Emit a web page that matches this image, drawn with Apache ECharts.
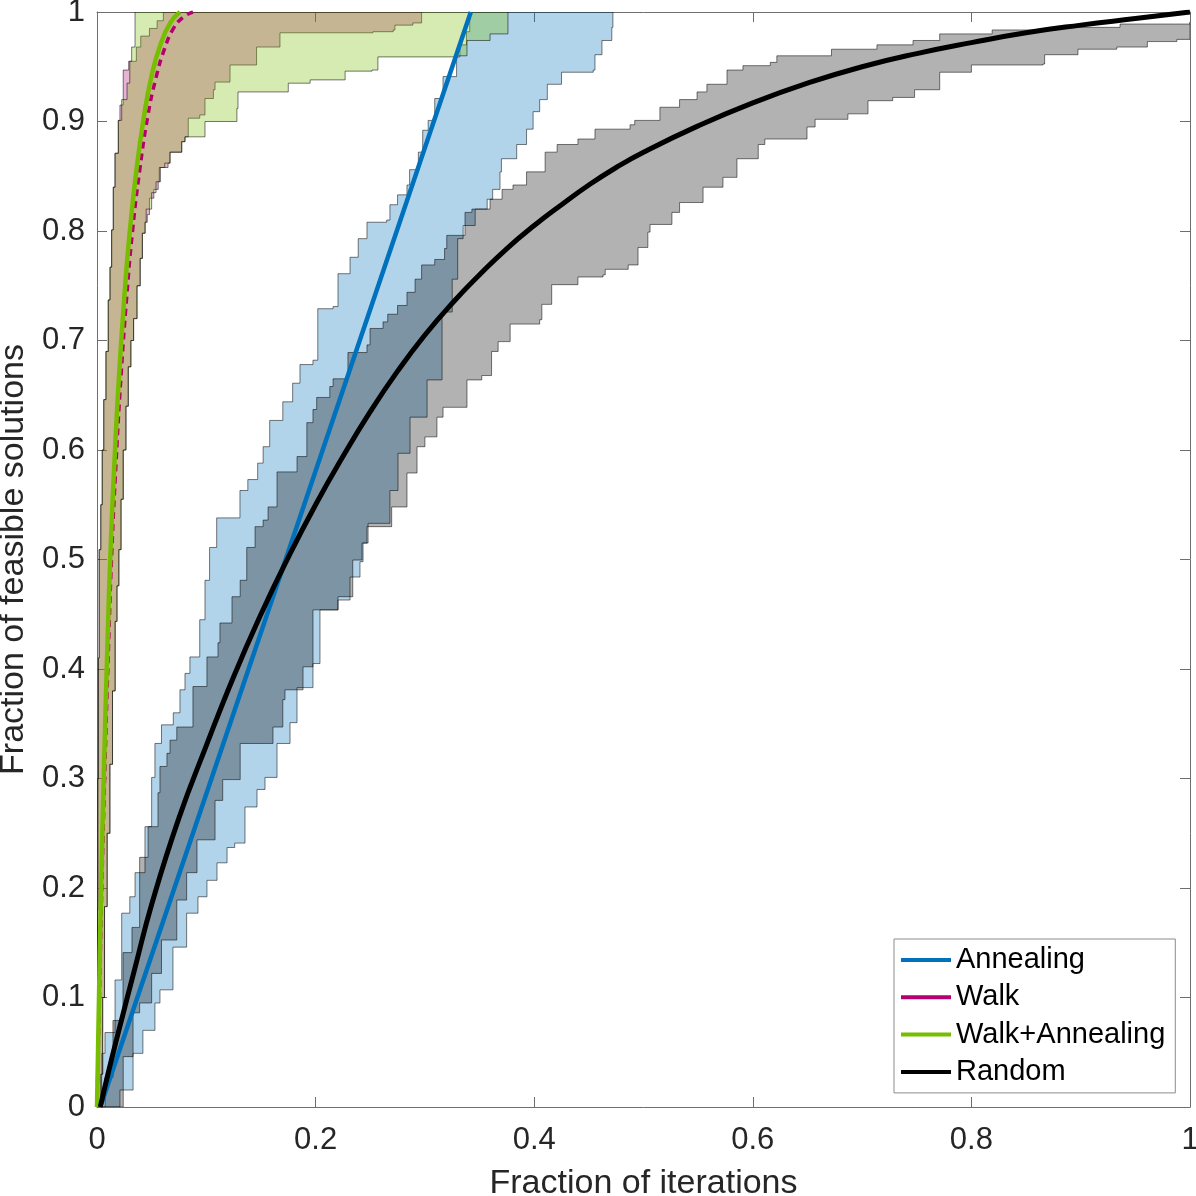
<!DOCTYPE html>
<html><head><meta charset="utf-8">
<script src="https://cdn.jsdelivr.net/npm/echarts@6/dist/echarts.min.js"></script>
<style>html,body{margin:0;padding:0;background:#fff}#c{width:1196px;height:1196px}</style>
</head><body><div id="c"></div>
<script>
// ---- data ----
const xTicks = [0, 0.2, 0.4, 0.6, 0.8, 1];
const yTicks = [0, 0.1, 0.2, 0.3, 0.4, 0.5, 0.6, 0.7, 0.8, 0.9, 1];
const seriesNames = ['Annealing', 'Walk', 'Walk+Annealing', 'Random'];

const annealingMean = [[0.003,0],[0.1726,0.5],[0.342,1]];
const walkMean = [[0,0],[0.0024,0.11],[0.0046,0.21],[0.0073,0.313],[0.0105,0.42],[0.0136,0.509],[0.0175,0.59],[0.0218,0.665],[0.0272,0.74],[0.0325,0.80],[0.039,0.855],[0.0465,0.905],[0.054,0.94],[0.062,0.967],[0.07,0.985],[0.0785,0.995],[0.0878,1.0]];
const walkAnnMean = [[0,0],[0.002,0.11],[0.004,0.21],[0.0065,0.313],[0.0095,0.42],[0.0124,0.509],[0.016,0.59],[0.020,0.665],[0.025,0.74],[0.030,0.80],[0.036,0.855],[0.043,0.905],[0.050,0.942],[0.058,0.97],[0.067,0.99],[0.0759,1.0]];
const randomMean = [[0.003,0],[0.01,0.03],[0.02,0.07],[0.035,0.128],[0.05,0.185],[0.075,0.264],[0.1,0.33],[0.125,0.393],[0.15,0.45],[0.175,0.502],[0.2,0.55],[0.225,0.594],[0.25,0.635],[0.275,0.672],[0.3,0.705],[0.325,0.734],[0.35,0.76],[0.375,0.784],[0.4,0.805],[0.425,0.824],[0.45,0.842],[0.475,0.858],[0.5,0.872],[0.55,0.896],[0.6,0.917],[0.65,0.935],[0.7,0.95],[0.75,0.962],[0.8,0.972],[0.85,0.981],[0.9,0.988],[0.95,0.994],[1.0,1.0]];

const annealingUpper = [[0.003,0],[0.0043,0.049],[0.0073,0.068],[0.0165,0.116],[0.0226,0.177],[0.030,0.192],[0.0348,0.214],[0.0439,0.256],[0.050,0.301],[0.053,0.332],[0.059,0.349],[0.0698,0.360],[0.0759,0.381],[0.0805,0.396],[0.085,0.411],[0.094,0.445],[0.0988,0.481],[0.103,0.511],[0.1095,0.538],[0.1308,0.563],[0.138,0.573],[0.147,0.588],[0.152,0.603],[0.158,0.627],[0.170,0.644],[0.179,0.661],[0.1857,0.678],[0.1976,0.682],[0.202,0.729],[0.216,0.731],[0.2205,0.761],[0.2315,0.776],[0.239,0.793],[0.247,0.808],[0.265,0.810],[0.268,0.824],[0.275,0.833],[0.2836,0.842],[0.286,0.856],[0.294,0.872],[0.298,0.892],[0.303,0.901],[0.309,0.921],[0.3166,0.941],[0.329,0.959],[0.332,0.970],[0.338,0.982],[0.341,1.0]];
const annealingLower = [[0.003,0],[0.021,0.0155],[0.033,0.049],[0.042,0.070],[0.053,0.095],[0.0576,0.107],[0.0695,0.146],[0.082,0.177],[0.0924,0.192],[0.1006,0.207],[0.1098,0.223],[0.119,0.237],[0.126,0.241],[0.1354,0.274],[0.1464,0.290],[0.1537,0.301],[0.1647,0.332],[0.1766,0.351],[0.183,0.383],[0.1976,0.405],[0.204,0.454],[0.2205,0.463],[0.2315,0.484],[0.2406,0.498],[0.2434,0.515],[0.248,0.533],[0.268,0.563],[0.2754,0.597],[0.2864,0.630],[0.302,0.664],[0.3157,0.726],[0.325,0.756],[0.330,0.793],[0.335,0.805],[0.346,0.820],[0.357,0.829],[0.362,0.838],[0.3687,0.854],[0.370,0.866],[0.384,0.879],[0.393,0.893],[0.399,0.909],[0.405,0.920],[0.412,0.934],[0.425,0.945],[0.454,0.947],[0.4556,0.961],[0.462,0.974],[0.471,0.986],[0.472,1.0]];

const walkUpper = [[0,0],[0.0003,0.18],[0.0008,0.3],[0.0013,0.41],[0.002,0.509],[0.0035,0.55],[0.0048,0.6],[0.0062,0.646],[0.0082,0.69],[0.0103,0.737],[0.0119,0.767],[0.0134,0.801],[0.0149,0.840],[0.0165,0.871],[0.0195,0.901],[0.021,0.915],[0.024,0.935],[0.024,0.947],[0.029,0.955],[0.036,0.968],[0.040,0.978],[0.048,0.985],[0.055,0.992],[0.0607,1.0]];
const walkLower = [[0.002,0],[0.0036,0.03],[0.0052,0.1],[0.0069,0.183],[0.0093,0.25],[0.0118,0.313],[0.0142,0.38],[0.0166,0.4435],[0.0183,0.476],[0.020,0.509],[0.022,0.555],[0.024,0.6],[0.0265,0.64],[0.0286,0.676],[0.031,0.70],[0.0335,0.72],[0.0366,0.75],[0.0395,0.775],[0.0415,0.798],[0.044,0.808],[0.046,0.815],[0.048,0.83],[0.052,0.838],[0.056,0.845],[0.058,0.858],[0.065,0.862],[0.0668,0.872],[0.076,0.872],[0.0775,0.8816],[0.0805,0.886],[0.0835,0.892],[0.0835,0.903],[0.094,0.906],[0.0988,0.9105],[0.0988,0.921],[0.1065,0.929],[0.108,0.936],[0.1217,0.936],[0.1217,0.9516],[0.146,0.9516],[0.146,0.968],[0.1674,0.968],[0.1674,0.981],[0.2525,0.982],[0.271,0.9836],[0.2726,0.988],[0.289,0.990],[0.297,0.993],[0.297,1.0]];

const walkAnnUpper = [[0,0],[0.0003,0.18],[0.0008,0.3],[0.0013,0.41],[0.002,0.509],[0.0035,0.55],[0.0048,0.6],[0.0062,0.646],[0.0082,0.69],[0.0103,0.737],[0.0119,0.767],[0.0134,0.801],[0.0149,0.840],[0.0165,0.871],[0.0195,0.901],[0.0226,0.92],[0.0275,0.935],[0.030,0.955],[0.0317,0.968],[0.0348,0.982],[0.0348,1.0]];
const walkAnnLower = [[0.002,0],[0.0036,0.03],[0.0052,0.1],[0.0069,0.183],[0.0093,0.25],[0.0118,0.313],[0.0142,0.38],[0.0166,0.4435],[0.0183,0.476],[0.020,0.509],[0.022,0.555],[0.024,0.6],[0.0265,0.64],[0.0286,0.676],[0.031,0.70],[0.0335,0.72],[0.0366,0.75],[0.0395,0.775],[0.0415,0.798],[0.044,0.808],[0.045,0.82],[0.05,0.835],[0.054,0.845],[0.057,0.858],[0.062,0.862],[0.0668,0.872],[0.0775,0.872],[0.0775,0.8816],[0.0805,0.886],[0.0988,0.900],[0.128,0.912],[0.129,0.927],[0.175,0.929],[0.175,0.935],[0.195,0.938],[0.227,0.9406],[0.227,0.946],[0.2516,0.947],[0.257,0.959],[0.330,0.960],[0.3385,0.974],[0.3596,0.980],[0.376,0.986],[0.376,1.0]];

const randomUpper = [[0.003,0],[0.0073,0.027],[0.0146,0.079],[0.0238,0.141],[0.032,0.164],[0.039,0.228],[0.0467,0.256],[0.0558,0.287],[0.0576,0.311],[0.064,0.323],[0.0668,0.335],[0.073,0.347],[0.0878,0.384],[0.1006,0.411],[0.1107,0.424],[0.1125,0.442],[0.1235,0.466],[0.131,0.481],[0.137,0.511],[0.1446,0.530],[0.152,0.536],[0.1565,0.548],[0.1647,0.580],[0.183,0.594],[0.192,0.625],[0.1976,0.637],[0.201,0.648],[0.213,0.658],[0.216,0.665],[0.2296,0.689],[0.247,0.696],[0.2498,0.711],[0.2617,0.717],[0.266,0.724],[0.275,0.732],[0.2836,0.744],[0.291,0.756],[0.297,0.769],[0.309,0.774],[0.318,0.784],[0.320,0.796],[0.3367,0.817],[0.343,0.820],[0.3596,0.829],[0.3706,0.838],[0.3806,0.842],[0.393,0.854],[0.410,0.872],[0.421,0.879],[0.440,0.884],[0.4556,0.893],[0.4877,0.897],[0.492,0.901],[0.515,0.913],[0.533,0.920],[0.549,0.927],[0.558,0.934],[0.5764,0.947],[0.591,0.951],[0.616,0.954],[0.622,0.960],[0.672,0.966],[0.7136,0.970],[0.7466,0.974],[0.771,0.980],[0.819,0.9836],[0.872,0.986],[0.936,0.989],[1.0,0.991]];
const randomLower = [[0.003,0],[0.012,0.0],[0.024,0.046],[0.033,0.086],[0.039,0.095],[0.050,0.122],[0.059,0.1525],[0.073,0.189],[0.082,0.214],[0.0915,0.244],[0.108,0.280],[0.115,0.299],[0.131,0.332],[0.160,0.332],[0.161,0.347],[0.170,0.372],[0.172,0.381],[0.1885,0.402],[0.1976,0.420],[0.1976,0.454],[0.2205,0.466],[0.234,0.4995],[0.2425,0.515],[0.247,0.530],[0.2696,0.548],[0.2836,0.579],[0.2928,0.603],[0.300,0.612],[0.311,0.630],[0.3166,0.639],[0.3385,0.641],[0.3385,0.664],[0.352,0.668],[0.361,0.690],[0.367,0.699],[0.378,0.715],[0.405,0.719],[0.407,0.733],[0.416,0.751],[0.440,0.758],[0.463,0.760],[0.465,0.765],[0.486,0.769],[0.495,0.785],[0.504,0.799],[0.506,0.806],[0.526,0.817],[0.533,0.826],[0.5545,0.840],[0.5727,0.849],[0.5855,0.866],[0.605,0.879],[0.611,0.884],[0.6496,0.895],[0.657,0.902],[0.687,0.907],[0.7054,0.919],[0.728,0.922],[0.748,0.929],[0.771,0.945],[0.8,0.9516],[0.8655,0.9525],[0.867,0.961],[0.8975,0.966],[0.933,0.968],[0.961,0.973],[0.988,0.975],[1.0,0.977]];

// ---- rendering ----
const FONT = '"Liberation Sans", Arial, Helvetica, sans-serif';
const AX = '#6e6e6e';
const TXT = '#262626';
const COLORS = {Annealing:'#0072BD', Walk:'#B4006E', 'Walk+Annealing':'#77BE00', Random:'#000000'};

function stairs(pts){
  const out = [pts[0]];
  for (let i = 1; i < pts.length; i++){
    out.push([pts[i][0], pts[i-1][1]]);
    out.push(pts[i]);
  }
  return out;
}
function band(name, upper, lower, rgb){
  const poly = stairs(upper).concat(stairs(lower).reverse());
  return {
    type:'custom', name: name + ' band', silent:true, clip:true,
    xAxisIndex:0, yAxisIndex:0, data:[[0,0]], z:2,
    renderItem: function(params, api){
      if (params.dataIndex !== 0) return null;
      return {type:'polygon', shape:{points: poly.map(p => api.coord(p))},
        style:{fill:'rgba(' + rgb + ',0.3)', stroke:'rgba(0,0,0,0.65)', lineWidth:0.8}};
    }
  };
}
function meanLine(name, data, opts){
  return Object.assign({
    type:'line', name:name, data:data, showSymbol:false, symbol:'none',
    xAxisIndex:0, yAxisIndex:0, z:3,
    itemStyle:{color:COLORS[name]},
    lineStyle:{color:COLORS[name], width:4.5},
    clip:true
  }, opts || {});
}

const axisCommon = {
  type:'value', min:0, max:1,
  axisLine:{show:true, onZero:false, lineStyle:{color:AX, width:1}},
  axisTick:{show:true, inside:true, length:10, lineStyle:{color:AX, width:1}},
  splitLine:{show:false}
};

const chart = echarts.init(document.getElementById('c'), null, {renderer:'canvas'});
chart.setOption({
  animation:false,
  backgroundColor:'#fff',
  grid:{left:97, right:6, top:12, bottom:89, containLabel:false, outerBoundsMode:'none'},
  xAxis:[
    Object.assign({}, axisCommon, {position:'bottom', interval:xTicks[1]-xTicks[0],
      axisLabel:{fontSize:31, color:TXT, margin:18, fontFamily:FONT},
      name:'Fraction of iterations', nameLocation:'middle', nameGap:60,
      nameTextStyle:{fontSize:34, color:TXT, fontFamily:FONT}}),
    Object.assign({}, axisCommon, {position:'top', interval:xTicks[1]-xTicks[0], axisLabel:{show:false}})
  ],
  yAxis:[
    Object.assign({}, axisCommon, {position:'left', interval:yTicks[1]-yTicks[0],
      axisLabel:{fontSize:31, color:TXT, margin:12, fontFamily:FONT},
      name:'Fraction of feasible solutions', nameLocation:'middle', nameGap:50, nameRotate:90,
      nameTextStyle:{fontSize:34, color:TXT, fontFamily:FONT}}),
    Object.assign({}, axisCommon, {position:'right', interval:yTicks[1]-yTicks[0], axisLabel:{show:false}})
  ],
  legend:{
    data:seriesNames, orient:'vertical', left:894, top:939,
    icon:'rect', itemWidth:50, itemHeight:4, itemGap:7.3,
    padding:[6,10,6,7], borderColor:'#8c8c8c', borderWidth:1, backgroundColor:'#fff',
    textStyle:{fontSize:29, color:'#000', lineHeight:30, fontFamily:FONT},
    itemStyle:{borderWidth:0}, z:20
  },
  series:[
    band('Annealing', annealingUpper, annealingLower, '0,114,189'),
    band('Walk', walkUpper, walkLower, '180,0,110'),
    band('Walk+Annealing', walkAnnUpper, walkAnnLower, '119,190,0'),
    band('Random', randomUpper, randomLower, '0,0,0'),
    meanLine('Annealing', annealingMean, {lineStyle:{color:COLORS.Annealing, width:4.5}}),
    meanLine('Walk', walkMean, {smooth:0.5, lineStyle:{color:COLORS.Walk, width:3.5, type:[7,5]}}),
    meanLine('Walk+Annealing', walkAnnMean, {smooth:0.5, z:4, lineStyle:{color:COLORS['Walk+Annealing'], width:4.5}}),
    meanLine('Random', randomMean, {smooth:0.5, z:5, lineStyle:{color:COLORS.Random, width:5}})
  ]
});
</script></body></html>
